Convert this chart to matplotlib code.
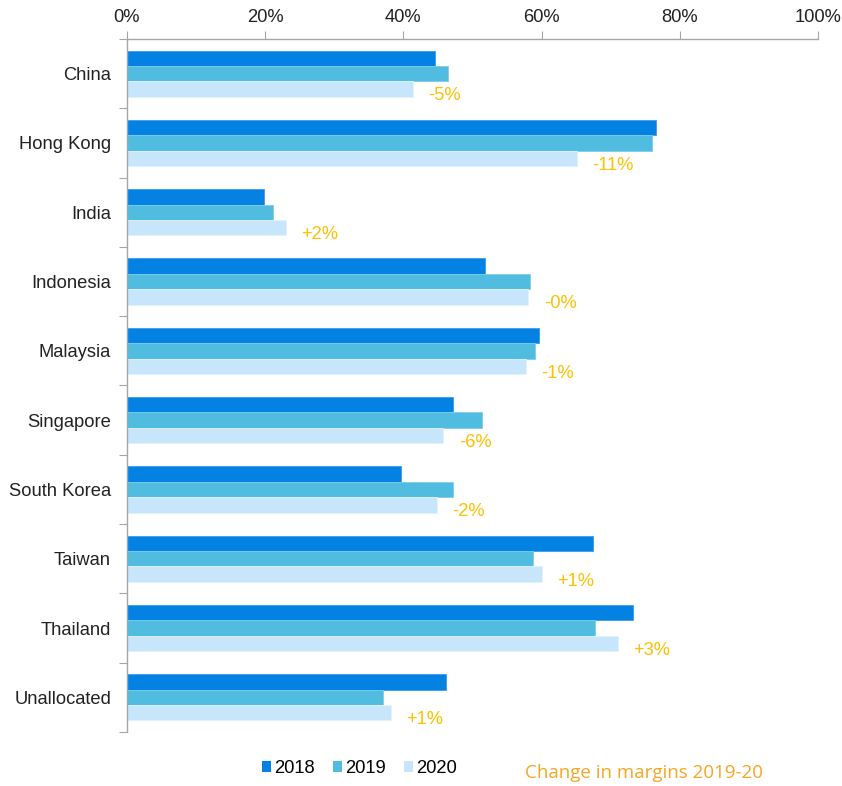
import matplotlib
matplotlib.use('Agg')
import matplotlib.pyplot as plt
from matplotlib.patches import Patch
import numpy as np

plt.rcParams['font.family'] = ['Liberation Sans', 'DejaVu Sans']

markets = ['China', 'Hong Kong', 'India', 'Indonesia', 'Malaysia',
           'Singapore', 'South Korea', 'Taiwan', 'Thailand', 'Unallocated']
margin_2018 = [44.6, 76.5, 19.8, 51.8, 59.6, 47.2, 39.7, 67.5, 73.2, 46.1]
margin_2019 = [46.4, 76.0, 21.2, 58.3, 59.0, 51.4, 47.2, 58.7, 67.8, 37.0]
margin_2020 = [41.4, 65.1, 23.0, 58.1, 57.7, 45.8, 44.9, 60.1, 71.0, 38.2]
change_labels = ['-5%', '-11%', '+2%', '-0%', '-1%', '-6%', '-2%', '+1%', '+3%', '+1%']
years = ['2018', '2019', '2020']
xticks = [0, 20, 40, 60, 80, 100]

colors = ['#0482E3', '#50BDE0', '#C7E6FC']
edges = ['#3B9BEA', '#7FCDEA', '#E3F2FD']
gold = '#FFC000'
axis_grey = '#A6A6A6'
fs = 13.2

fig = plt.figure(figsize=(8.42, 7.86), dpi=100)
ax = fig.add_axes([127 / 842, 1 - 732 / 786, (818 - 127) / 842, (732 - 39) / 786])

n = len(markets)
y = np.arange(n)
h = 0.222
series = [margin_2018, margin_2019, margin_2020]
for i, (vals, c, ec) in enumerate(zip(series, colors, edges)):
    ax.barh(y + (i - 1) * h, vals, height=h, color=c, edgecolor=ec,
            linewidth=0.6, label=years[i])

# change in margin annotations next to the 2020 bar
for yi, v, lab in zip(y, margin_2020, change_labels):
    ax.text(v + 2.2, yi + h + 0.1, lab, color=gold, fontsize=fs,
            ha='left', va='center')

ax.set_xlim(0, 100)
ax.set_ylim(n - 0.5, -0.5)
ax.xaxis.tick_top()
ax.set_xticks(xticks)
ax.set_xticklabels([f'{t}%' for t in xticks], fontsize=fs, color='#222222')
ax.tick_params(axis='x', length=6, width=0.8, color=axis_grey, pad=3)

ax.set_yticks(y)
ax.set_yticklabels(markets, fontsize=fs, color='#222222')
ax.tick_params(axis='y', which='major', length=0, pad=11.5)
ax.set_yticks(np.arange(-0.5, n, 1.0), minor=True)
ax.tick_params(axis='y', which='minor', length=6, width=0.8, color=axis_grey)

for side in ['right', 'bottom']:
    ax.spines[side].set_visible(False)
for side in ['top', 'left']:
    ax.spines[side].set_color(axis_grey)
    ax.spines[side].set_linewidth(1.0)

handles = [Patch(facecolor=c, edgecolor='none') for c in colors]
fig.legend(handles, years, loc='center', bbox_to_anchor=(0.427, 0.022),
           ncol=3, frameon=False, fontsize=fs, handlelength=0.5,
           handleheight=0.5, handletextpad=0.15, columnspacing=1.0)

fig.text(0.624, 0.017, 'Change in margins 2019-20', color='#F5A623',
         fontsize=13.5, family=['Open Sans', 'DejaVu Sans'], ha='left', va='center')

fig.savefig('out.png', dpi=100, facecolor='white')
